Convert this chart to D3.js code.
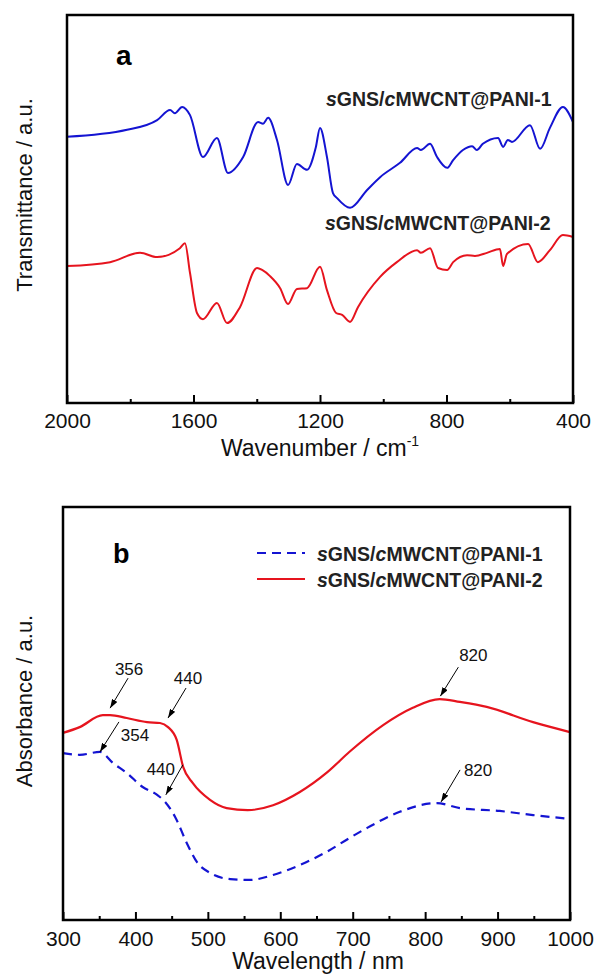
<!DOCTYPE html>
<html>
<head>
<meta charset="utf-8">
<script src="https://cdn.jsdelivr.net/npm/d3@7"></script>
<style>
  body { margin: 0; background: #fff; }
  svg { display: block; font-family: "Liberation Sans", Arial, sans-serif; }
</style>
</head>
<body>
<div id="chartContainer"></div>
<script>
// panel a: FTIR
const wnPani1 = [2000,1810,1715,1674,1659,1636,1611,1570,1526,1491,1443,1396,1380,1364,1336,1301,1273,1241,1213,1200,1178,1159,1146,1105,1051,1010,947,893,881,852,830,798,779,748,719,704,685,637,621,606,593,536,504,473,432,400];
const trPani1 = [68.6,70.4,72.9,75.5,74.7,76.3,74.2,63.4,68.3,59.3,63.4,72.4,72.0,73.5,67.8,56.2,61.6,60.1,66.0,70.9,63.4,54.1,52.8,50.3,54.9,58.2,61.9,65.7,65.2,66.8,63.4,60.6,62.6,65.2,66.2,65.2,66.8,68.3,66.0,67.8,67.3,71.6,65.5,70.9,76.3,72.4];
const wnPani2 = [2000,1864,1769,1715,1643,1627,1611,1589,1570,1526,1494,1453,1399,1383,1358,1326,1301,1273,1241,1200,1178,1149,1130,1105,1080,1010,957,893,881,852,827,798,779,735,710,672,631,621,609,542,511,473,432,400];
const trPani2 = [35.3,36.3,38.7,37.6,39.9,41.2,33.5,23.2,21.6,25.8,20.6,24.7,34.8,34.3,32.7,29.6,25.5,29.4,29.6,35.1,29.1,23.2,22.7,20.9,24.7,32.5,36.3,39.4,38.7,39.9,34.8,34.3,36.3,38.1,37.9,38.7,39.7,35.3,38.4,41.0,36.3,39.4,43.3,42.8];
const wnMajorTicks = [2000,1600,1200,800,400];
const wnMinorTicks = [1800,1400,1000,600];

// panel b: UV-vis
const wlPani1 = [300,323,351,369,388,410,430,441,455,471,485,503,531,558,590,627,665,696,720,765,816,848,903,949,1000];
const absPani1 = [40.4,40.0,40.7,38.0,35.6,32.2,30.3,28.6,24.9,18.6,14.0,11.4,9.9,9.7,10.9,13.3,16.6,19.9,22.3,26.2,28.3,27.1,26.4,25.4,24.5];
const wlPani2 = [300,323,355,365,388,416,434,445,457,466,479,503,526,555,590,627,665,696,742,783,820,848,885,949,1000];
const absPani2 = [45.3,46.7,49.6,49.6,48.9,47.9,47.7,46.7,43.6,37.0,33.2,29.1,27.1,26.6,27.8,31.0,35.8,40.8,47.2,51.4,53.5,52.8,51.6,47.9,45.5];
const wlMajorTicks = [300,400,500,600,700,800,900,1000];
const wlMinorTicks = [350,450,550,650,750,850,950];

// peak labels: text, arrow tip (wavelength, absorbance)
const peakLabels = ["356", "440", "354", "440", "820", "820"];
const peakWl = [365, 445, 351, 442, 821, 822];
const peakAbs = [51.3, 48.9, 40.7, 30.3, 54.2, 28.6];

const seriesNames = ["PANI-1", "PANI-2"];
const blue = "#1414d2";
const red = "#e6141e";

const width = 594, height = 976;
const svg = d3.select("#chartContainer").append("svg")
    .attr("width", width)
    .attr("height", height);

svg.append("defs").append("marker")
    .attr("id", "arrow")
    .attr("markerUnits", "userSpaceOnUse")
    .attr("markerWidth", 9).attr("markerHeight", 6)
    .attr("refX", 9).attr("refY", 3)
    .attr("orient", "auto")
  .append("path")
    .attr("d", "M0,0 L9,3 L0,6 z")
    .attr("fill", "#000");

function sampleName(sel, suffix) {
    sel.append("tspan").attr("font-style", "italic").text("s");
    sel.append("tspan").text("GNS/");
    sel.append("tspan").attr("font-style", "italic").text("c");
    sel.append("tspan").text("MWCNT@" + suffix);
}

function frame(g, x0, y0, w, h) {
    g.append("rect")
        .attr("x", x0).attr("y", y0)
        .attr("width", w).attr("height", h)
        .attr("fill", "none")
        .attr("stroke", "#000")
        .attr("stroke-width", 2.5);
}

function bottomTicks(g, scale, major, minor, y, pad) {
    g.append("g")
        .attr("transform", `translate(0,${y})`)
        .call(d3.axisBottom(scale).tickValues(major).tickSize(-8).tickPadding(pad).tickFormat(d3.format("d")))
        .attr("font-family", null)
        .attr("font-size", 21)
        .call(a => a.select(".domain").remove())
        .call(a => a.selectAll("line").attr("stroke-width", 2))
        .call(a => a.selectAll("text").attr("fill", "#111"));
    g.append("g")
        .attr("transform", `translate(0,${y})`)
        .call(d3.axisBottom(scale).tickValues(minor).tickSize(-4).tickFormat(""))
        .call(a => a.select(".domain").remove())
        .call(a => a.selectAll("line").attr("stroke-width", 2));
}

// ---------- panel a ----------
const a = { left: 67, right: 573, top: 15, bottom: 403 };
const xA = d3.scaleLinear().domain([2000, 400]).range([a.left, a.right]);
const yA = d3.scaleLinear().domain([0, 100]).range([a.bottom, a.top]);
const gA = svg.append("g");

const lineA = (xs, ys) => d3.line()
    .curve(d3.curveMonotoneX)
    .x((d, i) => xA(xs[i]))
    .y(d => yA(d))(ys);

gA.append("path").attr("d", lineA(wnPani1, trPani1))
    .attr("fill", "none").attr("stroke", blue).attr("stroke-width", 2).attr("stroke-linejoin", "round");
gA.append("path").attr("d", lineA(wnPani2, trPani2))
    .attr("fill", "none").attr("stroke", red).attr("stroke-width", 2).attr("stroke-linejoin", "round");

frame(gA, a.left, a.top, a.right - a.left, a.bottom - a.top);
bottomTicks(gA, xA, wnMajorTicks, wnMinorTicks, a.bottom, 10);

gA.append("text").attr("x", 116).attr("y", 65)
    .attr("font-size", 28).attr("font-weight", "bold").text("a");

gA.append("text").attr("x", 326).attr("y", 106)
    .attr("font-size", 19.5).attr("font-weight", "bold").attr("fill", "#222")
    .call(sampleName, seriesNames[0]);
gA.append("text").attr("x", 325).attr("y", 230)
    .attr("font-size", 19.5).attr("font-weight", "bold").attr("fill", "#222")
    .call(sampleName, seriesNames[1]);

const titleA = gA.append("text")
    .attr("x", 320).attr("y", 456)
    .attr("text-anchor", "middle")
    .attr("font-size", 23).attr("fill", "#111");
titleA.append("tspan").text("Wavenumber / cm");
titleA.append("tspan").attr("font-size", 14).attr("dy", -10).text("-1");

gA.append("text")
    .attr("transform", "translate(32,195) rotate(-90)")
    .attr("text-anchor", "middle")
    .attr("font-size", 22).attr("fill", "#111")
    .text("Transmittance / a.u.");

// ---------- panel b ----------
const b = { left: 63, right: 570, top: 507, bottom: 920 };
const xB = d3.scaleLinear().domain([300, 1000]).range([b.left, b.right]);
const yB = d3.scaleLinear().domain([0, 100]).range([b.bottom, b.top]);
const gB = svg.append("g");

const lineB = (xs, ys) => d3.line()
    .curve(d3.curveMonotoneX)
    .x((d, i) => xB(xs[i]))
    .y(d => yB(d))(ys);

gB.append("path").attr("d", lineB(wlPani1, absPani1))
    .attr("fill", "none").attr("stroke", blue).attr("stroke-width", 2.2)
    .attr("stroke-dasharray", "9,6");
gB.append("path").attr("d", lineB(wlPani2, absPani2))
    .attr("fill", "none").attr("stroke", red).attr("stroke-width", 2.2);

frame(gB, b.left, b.top, b.right - b.left, b.bottom - b.top);
bottomTicks(gB, xB, wlMajorTicks, wlMinorTicks, b.bottom, 11);

gB.append("text").attr("x", 113).attr("y", 563)
    .attr("font-size", 27).attr("font-weight", "bold").text("b");

// legend
const legend = gB.append("g").attr("transform", "translate(257,553)");
[blue, red].forEach((c, i) => {
    legend.append("line")
        .attr("x1", 0).attr("x2", 48)
        .attr("y1", i * 26).attr("y2", i * 26)
        .attr("stroke", c).attr("stroke-width", 2.2)
        .attr("stroke-dasharray", i === 0 ? "9,6" : null);
    legend.append("text")
        .attr("x", 60).attr("y", i * 26 + 8)
        .attr("font-size", 19.5).attr("font-weight", "bold").attr("fill", "#222")
        .call(sampleName, seriesNames[i]);
});

// peak arrows
const tail = [[18, -30], [18, -30], [19, -30], [17, -30], [18, -29], [19, -32]];
const textOff = [[19, -33], [20, -34], [35, -11], [-5, -20], [33, -35], [37, -26]];
peakLabels.forEach((lab, i) => {
    const tx = xB(peakWl[i]), ty = yB(peakAbs[i]);
    gB.append("line")
        .attr("x1", tx + tail[i][0]).attr("y1", ty + tail[i][1])
        .attr("x2", tx).attr("y2", ty)
        .attr("stroke", "#000").attr("stroke-width", 1)
        .attr("marker-end", "url(#arrow)");
    gB.append("text")
        .attr("x", tx + textOff[i][0]).attr("y", ty + textOff[i][1])
        .attr("text-anchor", "middle")
        .attr("font-size", 17).attr("fill", "#111")
        .text(lab);
});

gB.append("text")
    .attr("x", 318).attr("y", 969)
    .attr("text-anchor", "middle")
    .attr("font-size", 23).attr("fill", "#111")
    .text("Wavelength / nm");

gB.append("text")
    .attr("transform", "translate(32,701) rotate(-90)")
    .attr("text-anchor", "middle")
    .attr("font-size", 22).attr("fill", "#111")
    .text("Absorbance / a.u.");
</script>
</body>
</html>
